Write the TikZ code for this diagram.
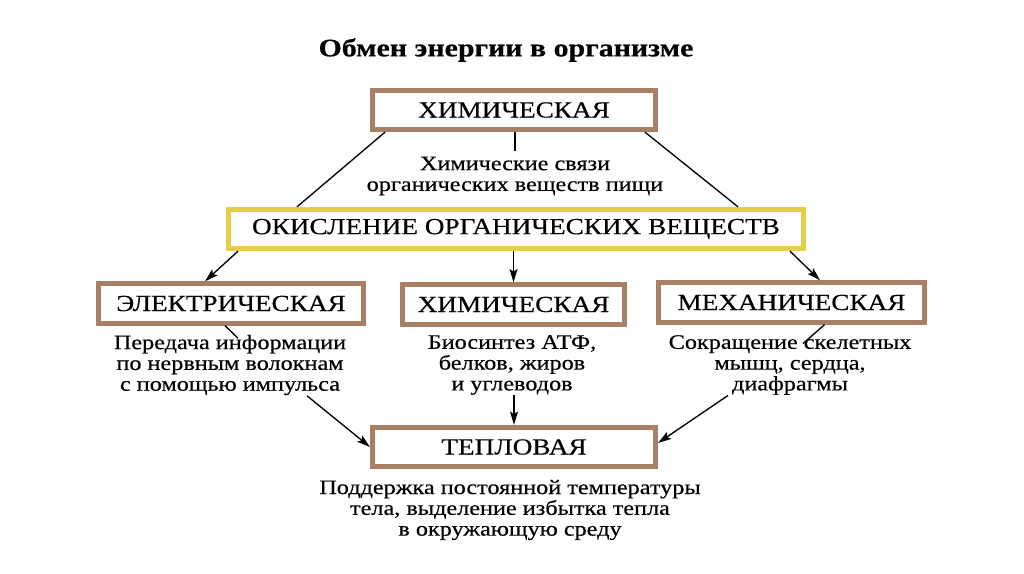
\documentclass[tikz,border=0pt]{standalone}
\usepackage{fontspec}
\setmainfont{Liberation Serif}[FakeStretch=1.18, FakeBold=0.4]
\usetikzlibrary{arrows.meta, calc}
\definecolor{cbrown}{HTML}{A97F66}
\definecolor{cyellow}{HTML}{E6CF45}
\tikzset{
  every picture/.style={line width=1pt},
  box/.style={draw=#1, fill=white, line width=3.75pt, inner sep=0pt, minimum height=29.5pt, font=\fontsize{17.3}{20}\selectfont},
  box/.default=cbrown,
  arrow/.style={-{Stealth[length=10pt, width=6pt, inset=2pt]}, line width=1pt},
  note/.style={align=center, inner sep=0pt, font=\fontsize{15.4}{15.6}\selectfont},
  title/.style={font=\fontsize{19}{22}\selectfont\bfseries},
}

\begin{document}
\begin{tikzpicture}[x=0.75pt, y=-0.75pt]
  \useasboundingbox (0,0) rectangle (1024,574);
  \node[title] (title) at (506,50) {Обмен энергии в организме};

  % boxes
  \node[box, minimum width=212.25pt] (chem) at (514,110) {ХИМИЧЕСКАЯ};
  \node[box=cyellow, minimum width=431.25pt] (ox) at (516,229) {ОКИСЛЕНИЕ ОРГАНИЧЕСКИХ ВЕЩЕСТВ};
  \node[box, minimum width=198.75pt] (elec) at (231,303.5) {ЭЛЕКТРИЧЕСКАЯ};
  \node[box, minimum width=166.5pt] (chemb) at (513.5,304.5) {ХИМИЧЕСКАЯ};
  \node[box, minimum width=199.5pt] (mech) at (791.5,302.5) {МЕХАНИЧЕСКАЯ};
  \node[box, minimum width=212.25pt] (heat) at (514,447) {ТЕПЛОВАЯ};

  % notes
  \node[note] (food) at (515,176) {Химические связи\\органических веществ пищи};
  \node[note] (elecnote) at (230,365) {Передача информации\\по нервным волокнам\\с помощью импульса};
  \node[note] (chemnote) at (512,365) {Биосинтез АТФ,\\белков, жиров\\и углеводов};
  \node[note] (mechnote) at (790,365) {Сокращение скелетных\\мышц, сердца,\\диафрагмы};
  \node[note] (heatnote) at (510,510) {Поддержка постоянной температуры\\тела, выделение избытка тепла\\в окружающую среду};

  % connectors
  \draw[shorten >=4pt] (chem.south -| food.north) -- (food.north);
  \draw ($(chem.south west)+(15,0)$) -- ($(ox.north west)+(71,0)$);
  \draw ($(chem.south east)+(-13,0)$) -- ($(ox.north east)+(-68,0)$);
  \draw[arrow] ($(ox.south west)+(12,0)$) -- ($(elec.north west)+(109,0)$);
  \draw[arrow] (ox.south -| chemb.north) -- (chemb.north);
  \draw[arrow] ($(ox.south east)+(-16,0)$) -- ($(mech.north west)+(164,0)$);
  \draw ($(elec.south)+(-6,0)$) -- ($(elecnote.north)+(8,4)$);
  \draw ($(mech.south)+(33,0)$) -- ($(mechnote.north)+(13,9)$);
  \draw[arrow] ($(elecnote.south)+(77,0)$) -- (heat.west);
  \draw[arrow] (chemnote.south -| heat.north) -- (heat.north);
  \draw[arrow] ($(mechnote.south)+(-62,0)$) -- ($(heat.east)+(0,-4)$);
\end{tikzpicture}
\end{document}
